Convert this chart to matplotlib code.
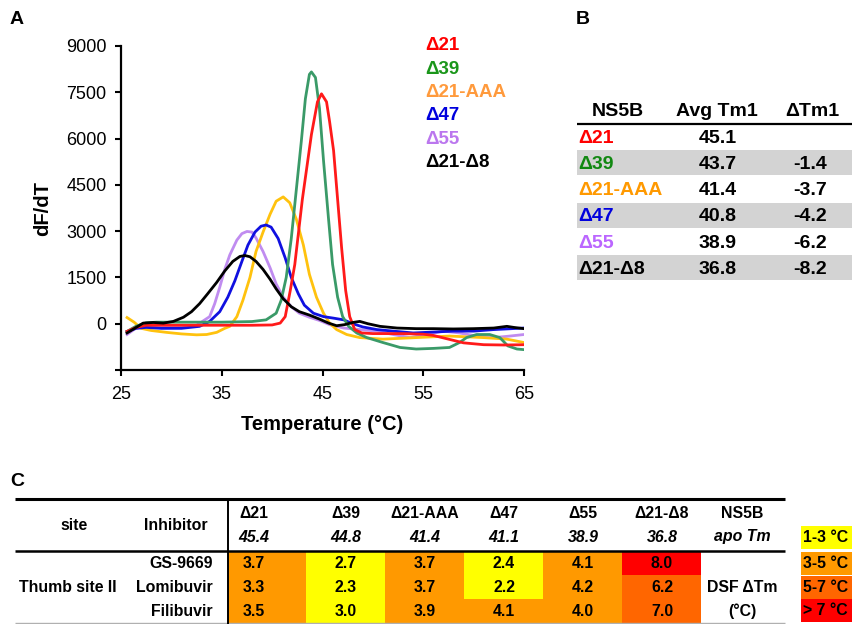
import numpy as np
import matplotlib.pyplot as plt
from matplotlib.patches import Rectangle

plt.rcParams['font.family'] = ['Liberation Sans', 'DejaVu Sans']

# ---- Panel A: DSF first-derivative curves ----
t_d21 = [25.6, 26.5, 27.5, 30, 35, 38, 40, 40.8, 41.3, 41.8, 42.25, 43.0, 43.9, 44.5, 44.9,
         45.4, 45.7, 46.1, 46.5, 46.9, 47.3, 47.7, 48.2, 48.9, 50, 53, 55, 56, 57.5, 59, 61, 63, 65]
v_d21 = [-250, -120, -50, -50, -50, -50, -40, 20, 230, 1075, 1920, 4030, 6130, 7190, 7450,
         7190, 6560, 5610, 4030, 2450, 1075, 230, -190, -300, -320, -320, -340, -380, -500, -620, -680, -690, -680]

t_d39 = [25.6, 26.5, 27.5, 28.5, 30, 35, 38, 39.4, 40.4, 40.9, 41.4, 41.9, 42.4, 42.9, 43.3, 43.7, 43.9,
         44.3, 44.7, 45.1, 45.6, 46.0, 46.5, 47.0, 47.6, 48.4, 49.4, 51.0, 52.7, 54.3, 56.0, 57.6,
         58.6, 59.3, 60.3, 61.6, 62.6, 63.4, 64.3, 65.0]
v_d39 = [-250, -80, 30, 50, 50, 50, 70, 125, 340, 760, 1500, 2760, 4340, 5920, 7290, 8080, 8160,
         7980, 6980, 5290, 3390, 1920, 860, 230, -85, -300, -450, -610, -770, -820, -800, -770,
         -610, -450, -350, -350, -450, -720, -820, -840]

t_aaa = [25.6, 26.3, 27, 28, 29.5, 31, 32.5, 33.5, 34.5, 35.3, 35.8, 36.5, 37.1, 37.8, 38.4, 39.1,
         39.8, 40.4, 41.1, 41.75, 42.4, 43.1, 43.7, 44.4, 45.1, 45.7, 46.4, 47.4, 48.7, 51.0, 54.3,
         57.6, 61.0, 63.3, 65.0]
v_aaa = [200, 50, -150, -220, -280, -330, -360, -350, -280, -150, -85, 230, 760, 1500, 2340, 2970,
         3550, 3970, 4110, 3920, 3390, 2550, 1600, 860, 340, 20, -190, -350, -450, -500, -450,
         -400, -450, -500, -610]

t_d47 = [25.6, 26.5, 27.5, 29, 31, 32.8, 33.8, 34.8, 35.6, 36.3, 37.0, 37.6, 38.3, 38.9, 39.4, 39.9,
         40.6, 41.3, 41.9, 42.6, 43.2, 44.1, 45.1, 46.1, 47.1, 48.0, 49.0, 50.4, 52.0, 54.0, 56.0,
         58.0, 60.0, 62.0, 65.0]
v_d47 = [-250, -150, -120, -150, -150, -85, 75, 390, 860, 1390, 2020, 2550, 2970, 3160, 3200, 3130,
         2760, 2130, 1500, 970, 600, 340, 230, 180, 125, 0, -105, -190, -240, -300, -270,
         -240, -240, -190, -140]

t_d55 = [25.6, 26.5, 27.5, 29, 31, 32.5, 33.8, 34.3, 34.8, 35.3, 35.8, 36.5, 37.0, 37.5, 38.0, 38.4,
         39.1, 39.8, 40.4, 41.1, 41.9, 42.7, 43.7, 44.7, 45.7, 47.1, 48.7, 50.4, 52.0, 53.7, 55.3,
         57.0, 58.6, 60.3, 62.0, 63.6, 65.0]
v_d55 = [-350, -140, -100, -130, -120, -50, 230, 650, 1180, 1760, 2230, 2710, 2920, 2990, 2970, 2780,
         2340, 1810, 1290, 860, 550, 340, 210, 105, -30, -140, -190, -240, -350, -450, -350,
         -240, -300, -400, -450, -400, -350]

t_d8 = [25.6, 26.4, 27.2, 28.2, 29.2, 30.2, 31.2, 32.0, 32.8, 33.6, 34.5, 35.3, 36.1, 36.8, 37.3,
        37.8, 38.4, 39.1, 39.8, 40.4, 41.1, 41.9, 42.7, 43.7, 44.7, 45.6, 46.4, 47.2, 48.0, 48.7,
        49.5, 50.7, 52.4, 54.3, 56.0, 58.0, 60.0, 62.0, 63.3, 64.0, 65.0]
v_d8 = [-300, -140, 20, 40, 20, 75, 210, 390, 650, 970, 1340, 1710, 2020, 2180, 2210,
        2170, 2020, 1760, 1440, 1130, 810, 550, 390, 280, 150, 20, -65, -30, 40, 75,
        0, -85, -140, -160, -160, -170, -160, -140, -85, -120, -160]

labels = ['Δ21', 'Δ39', 'Δ21-AAA', 'Δ47', 'Δ55', 'Δ21-Δ8']
line_colors = ['#ff1a1a', '#3a9a68', '#ffc20e', '#1010e0', '#c08cf0', '#000000']
text_colors = ['#ff0000', '#1a961a', '#ff9a3c', '#0000dd', '#bb77ee', '#000000']

# ---- Panel B table ----
avg_tm1 = ['45.1', '43.7', '41.4', '40.8', '38.9', '36.8']
delta_tm1 = ['', '-1.4', '-3.7', '-4.2', '-6.2', '-8.2']
table_b_colors = ['#ff0000', '#118811', '#ff9900', '#0000dd', '#bb66ff', '#000000']

# ---- Panel C table ----
apo_tm = ['45.4', '44.8', '41.4', '41.1', '38.9', '36.8']
inhibitors = ['GS-9669', 'Lomibuvir', 'Filibuvir']
dsf_dtm = [[3.7, 2.7, 3.7, 2.4, 4.1, 8.0],
           [3.3, 2.3, 3.7, 2.2, 4.2, 6.2],
           [3.5, 3.0, 3.9, 4.1, 4.0, 7.0]]
bin_labels = ['1-3 °C', '3-5 °C', '5-7 °C', '> 7 °C']
bin_edges = [3, 5, 7]
bin_colors = ['#ffff00', '#ff9900', '#ff6600', '#ff0000']

fig = plt.figure(figsize=(8.52, 6.24), dpi=100)

# background axes in pixel coordinates for labels and tables
bg = fig.add_axes([0, 0, 1, 1])
bg.set_xlim(0, 852)
bg.set_ylim(624, 0)
bg.axis('off')
bg.patch.set_visible(False)

# ---------------- Panel A ----------------
ax = fig.add_axes([121 / 852, 1 - 370 / 624, (524 - 121) / 852, (370 - 46) / 624])
curves = [(t_d21, v_d21), (t_d39, v_d39), (t_aaa, v_aaa), (t_d47, v_d47), (t_d55, v_d55), (t_d8, v_d8)]
order = [4, 2, 3, 1, 0, 5]
for i in order:
    t, v = curves[i]
    ax.plot(t, v, color=line_colors[i], lw=2.0, solid_joinstyle='round', zorder=2 + order.index(i))

ax.set_xlim(25, 65)
ax.set_ylim(-1500, 9000)
ax.set_xticks([25, 35, 45, 55, 65])
ax.set_yticks([-1500, 0, 1500, 3000, 4500, 6000, 7500, 9000])
ax.set_yticklabels(['', '0', '1500', '3000', '4500', '6000', '7500', '9000'])
ax.spines['top'].set_visible(False)
ax.spines['right'].set_visible(False)
ax.spines['left'].set_linewidth(1.6)
ax.spines['bottom'].set_linewidth(1.6)
ax.tick_params(axis='both', direction='out', length=4.5, width=1.5, labelsize=13)
ax.tick_params(axis='y', pad=6)
ax.tick_params(axis='x', pad=7)
ax.patch.set_visible(False)
ax.set_xlabel('Temperature (°C)', fontsize=14.5, fontweight='bold', labelpad=9)
ax.set_ylabel('dF/dT', fontsize=14.5, fontweight='bold', labelpad=10)

for i, lab in enumerate(labels):
    bg.text(425, 46 + 23.3 * i, lab, color=text_colors[i], fontsize=13.5, fontweight='bold',
            ha='left', va='center')

bg.text(10, 19, 'A', fontsize=14, fontweight='bold', ha='left', va='center')
bg.text(576, 19, 'B', fontsize=14, fontweight='bold', ha='left', va='center')
bg.text(10, 481, 'C', fontsize=14, fontweight='bold', ha='left', va='center')

# ---------------- Panel B ----------------
fs_b = 14
bg.text(618, 111, 'NS5B', fontsize=fs_b, fontweight='bold', ha='center', va='center')
bg.text(717, 111, 'Avg Tm1', fontsize=fs_b, fontweight='bold', ha='center', va='center')
bg.text(812, 111, 'ΔTm1', fontsize=fs_b, fontweight='bold', ha='center', va='center')
bg.plot([577, 852], [124.3, 124.3], color='black', lw=1.6, solid_capstyle='butt')
row_h = 26.2
for i, lab in enumerate(labels):
    y0 = 125 + row_h * i
    if i % 2 == 1:
        bg.add_patch(Rectangle((577, y0 - 0.8), 285, 25, facecolor='#d3d3d3', lw=0))
    yc = y0 + 13.3
    bg.text(578, yc, lab, color=table_b_colors[i], fontsize=fs_b, fontweight='bold', ha='left', va='center')
    bg.text(718, yc, avg_tm1[i], fontsize=fs_b, fontweight='bold', ha='center', va='center')
    bg.text(810, yc, delta_tm1[i], fontsize=fs_b, fontweight='bold', ha='center', va='center')

# ---------------- Panel C ----------------
fs_c = 11.4
col_edges = [228, 306, 385, 464, 543, 622, 701]
text_x = [254, 346, 425, 504, 583, 662]
row_edges = [551, 575, 599, 623]
row_y = [563, 587.5, 611.5]

bg.plot([15, 785], [499, 499], color='black', lw=2.2, solid_capstyle='butt')
bg.plot([15, 785], [550.5, 550.5], color='black', lw=1.8, solid_capstyle='butt', zorder=5)
bg.plot([15, 785], [622.5, 622.5], color='#b0b0b0', lw=1.0, solid_capstyle='butt')
bg.plot([228, 228], [499, 624], color='black', lw=1.4, solid_capstyle='butt', zorder=5)

bg.text(74, 526, 'site', fontsize=fs_c, fontweight='bold', ha='center', va='center')
bg.text(176, 526, 'Inhibitor', fontsize=fs_c, fontweight='bold', ha='center', va='center')
for j, lab in enumerate(labels):
    bg.text(text_x[j], 513, lab, fontsize=fs_c, fontweight='bold', ha='center', va='center')
    bg.text(text_x[j], 537, apo_tm[j], fontsize=fs_c, fontweight='bold', style='italic',
            ha='center', va='center')
bg.text(742, 513, 'NS5B', fontsize=fs_c, fontweight='bold', ha='center', va='center')
bg.text(742, 537, 'apo Tm', fontsize=fs_c, fontweight='bold', style='italic', ha='center', va='center')

bg.text(68, 588, 'Thumb site II', fontsize=fs_c, fontweight='bold', ha='center', va='center')
for r, name in enumerate(inhibitors):
    bg.text(213, row_y[r], name, fontsize=fs_c, fontweight='bold', ha='right', va='center')
    for j, val in enumerate(dsf_dtm[r]):
        c = bin_colors[int(np.searchsorted(bin_edges, val, side='left'))]
        bg.add_patch(Rectangle((col_edges[j], row_edges[r]), col_edges[j + 1] - col_edges[j],
                               row_edges[r + 1] - row_edges[r], facecolor=c, lw=0))
        bg.text(text_x[j], row_y[r], f'{val:.1f}', fontsize=fs_c, fontweight='bold',
                ha='center', va='center')

bg.text(742, 587.5, 'DSF ΔTm', fontsize=fs_c, fontweight='bold', ha='center', va='center')
bg.text(742, 611.5, '(°C)', fontsize=fs_c, fontweight='bold', ha='center', va='center')

legend_top = [526, 552, 575.5, 599]
legend_bottom = [549, 574.5, 598.5, 622]
for k, lab in enumerate(bin_labels):
    bg.add_patch(Rectangle((801, legend_top[k]), 60, legend_bottom[k] - legend_top[k],
                           facecolor=bin_colors[k], lw=0))
    bg.text(803, (legend_top[k] + legend_bottom[k]) / 2, lab, fontsize=fs_c, fontweight='bold',
            ha='left', va='center')

fig.savefig('out.png', dpi=100)
